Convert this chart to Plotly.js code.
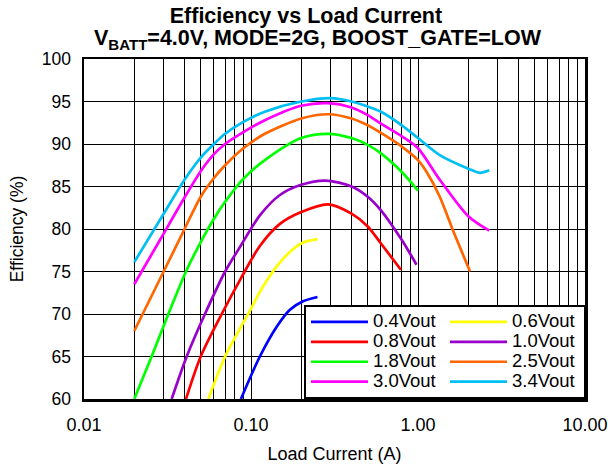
<!DOCTYPE html>
<html><head><meta charset="utf-8">
<script src="https://cdn.plot.ly/plotly-3.0.1.min.js"></script>
<style>html,body{margin:0;padding:0;background:#fff;} #chart{width:608px;height:466px;}</style>
</head><body><div id="chart"></div>
<script>
// Series labels (legend order, row-major)
const seriesNames = ['0.4Vout','0.6Vout','0.8Vout','1.0Vout','1.8Vout','2.5Vout','3.0Vout','3.4Vout'];

// Load current (A) and efficiency (%) per series
const current_04 = [0.087, 0.113, 0.1425, 0.171, 0.205, 0.25];
const eff_04     = [60.0, 65.0, 68.5, 70.5, 71.5, 72.0];

const current_06 = [0.0555, 0.07, 0.086, 0.1, 0.113, 0.1425, 0.171, 0.205, 0.25];
const eff_06     = [60.0, 65.0, 68.3, 70.6, 72.6, 75.6, 77.3, 78.4, 78.8];

const current_08 = [0.0408, 0.05, 0.0668, 0.087, 0.113, 0.149, 0.2, 0.29, 0.4, 0.5, 0.6, 0.79];
const eff_08     = [60.0, 65.0, 70.0, 74.2, 78.0, 80.6, 82.0, 82.9, 81.8, 80.3, 78.3, 75.2];

const current_10 = [0.0335, 0.0412, 0.053, 0.07, 0.086, 0.113, 0.149, 0.2, 0.28, 0.4, 0.5, 0.6, 0.8, 0.98];
const eff_10     = [60.0, 65.0, 70.0, 75.0, 77.9, 81.6, 84.0, 85.2, 85.7, 85.0, 83.8, 82.2, 78.7, 75.8];

const current_18 = [0.02, 0.0254, 0.032, 0.0408, 0.0483, 0.06, 0.07, 0.09, 0.121, 0.2, 0.29, 0.4, 0.5, 0.6, 0.8, 1.0];
const eff_18     = [60.0, 65.0, 70.0, 75.0, 77.9, 81.2, 83.2, 85.9, 88.1, 90.7, 91.2, 90.7, 89.9, 88.9, 86.7, 84.5];

const current_25 = [0.02, 0.03, 0.04, 0.05, 0.06, 0.07, 0.09, 0.121, 0.2, 0.29, 0.4, 0.5, 0.6, 0.8, 1.0, 1.127, 1.35, 1.63, 2.05];
const eff_25     = [68.0, 75.0, 80.0, 83.8, 86.0, 87.5, 89.5, 91.2, 93.0, 93.5, 93.0, 92.2, 91.3, 89.7, 88.1, 86.7, 83.8, 79.7, 75.0];

const current_30 = [0.02, 0.0285, 0.04, 0.05, 0.06, 0.07, 0.09, 0.121, 0.2, 0.29, 0.4, 0.5, 0.6, 0.8, 1.0, 1.35, 2.0, 2.67];
const eff_30     = [73.5, 78.7, 83.7, 86.8, 88.8, 90.0, 91.4, 92.8, 94.5, 94.8, 94.3, 93.4, 92.4, 90.9, 89.5, 85.8, 81.5, 79.8];

const current_34 = [0.02, 0.03, 0.04, 0.05, 0.06, 0.07, 0.09, 0.121, 0.2, 0.3, 0.4, 0.5, 0.6, 0.8, 1.0, 1.35, 2.0, 2.35, 2.67];
const eff_34     = [76.1, 81.8, 85.8, 88.4, 90.0, 91.2, 92.6, 93.8, 95.0, 95.4, 95.0, 94.4, 93.8, 92.2, 90.7, 88.7, 87.1, 86.6, 86.9];

// Axis tick values / labels
const yTicks = [60, 65, 70, 75, 80, 85, 90, 95, 100];
const xTicks = [0.01, 0.1, 1, 10];
const xTickLabels = ['0.01', '0.10', '1.00', '10.00'];

// Titles
const chartTitle = 'Efficiency vs Load Current';
const chartSubtitle = 'V<sub>BATT</sub>=4.0V, MODE=2G, BOOST_GATE=LOW';
const xTitle = 'Load Current (A)';
const yTitle = 'Efficiency (%)';

// Styles
const colors = ['#0000FF', '#FFFF00', '#FF0000', '#9900CC', '#00FF00', '#FF6600', '#FF00FF', '#00BFF3'];

const xs = [current_04, current_06, current_08, current_10, current_18, current_25, current_30, current_34];
const ys = [eff_04, eff_06, eff_08, eff_10, eff_18, eff_25, eff_30, eff_34];

const FONT = 'Liberation Sans, Arial, Helvetica, sans-serif';

const traces = seriesNames.map((n, i) => ({
  type: 'scatter', mode: 'lines',
  x: xs[i], y: ys[i],
  name: '<span style="font-size:18.5px">' + n + '</span>',
  line: {color: colors[i], width: 2.7, shape: 'spline', smoothing: 0.8},
  hoverinfo: 'x+y'
}));

const layout = {
  width: 608, height: 466,
  margin: {l: 84, r: 23, t: 59, b: 67, autoexpand: false},
  paper_bgcolor: '#fff', plot_bgcolor: '#fff',
  font: {family: FONT, color: '#000', size: 18},
  title: {
    text: '<b>' + chartTitle + '</b>',
    font: {family: FONT, size: 21.5, color: '#000'},
    xref: 'paper', x: 0.443, xanchor: 'center',
    yref: 'container', y: 0.982, yanchor: 'top'
  },
  annotations: [{
    text: '<b>' + chartSubtitle + '</b>',
    xref: 'paper', yref: 'paper', x: 0.468, y: 1.057,
    xanchor: 'center', yanchor: 'middle', showarrow: false,
    font: {family: FONT, size: 21.5, color: '#000'}
  }],
  xaxis: {
    type: 'log', range: [-2, 1],
    tickvals: xTicks, ticktext: xTickLabels,
    ticks: '', showgrid: true, gridcolor: '#000', gridwidth: 1,
    minor: {dtick: 'D1', showgrid: true, gridcolor: '#000', gridwidth: 1, ticks: ''},
    showline: true, linecolor: '#000', linewidth: 2.5, mirror: true,
    zeroline: false,
    tickfont: {family: FONT, size: 18, color: '#000'},
    ticklabelstandoff: 8,
    title: {text: xTitle, font: {family: FONT, size: 18, color: '#000'}, standoff: 14}
  },
  yaxis: {
    range: [60, 100], tickvals: yTicks,
    ticks: '', showgrid: true, gridcolor: '#000', gridwidth: 1,
    showline: true, linecolor: '#000', linewidth: 2.5, mirror: true,
    zeroline: false,
    tickfont: {family: FONT, size: 17.5, color: '#000'},
    ticklabelstandoff: 7,
    title: {text: yTitle, font: {family: FONT, size: 17.5, color: '#000'}, standoff: 14}
  },
  showlegend: true,
  legend: {
    orientation: 'h',
    x: 1.002, xanchor: 'right', y: 0, yanchor: 'bottom',
    bgcolor: '#fff', bordercolor: '#000', borderwidth: 2,
    font: {family: FONT, size: 13, color: '#000'},
    itemwidth: 57, entrywidth: 67, entrywidthmode: 'pixels',
    traceorder: 'normal', itemclick: false, itemdoubleclick: false
  }
};

Plotly.newPlot('chart', traces, layout, {displayModeBar: false, staticPlot: true});
</script>
</body></html>
